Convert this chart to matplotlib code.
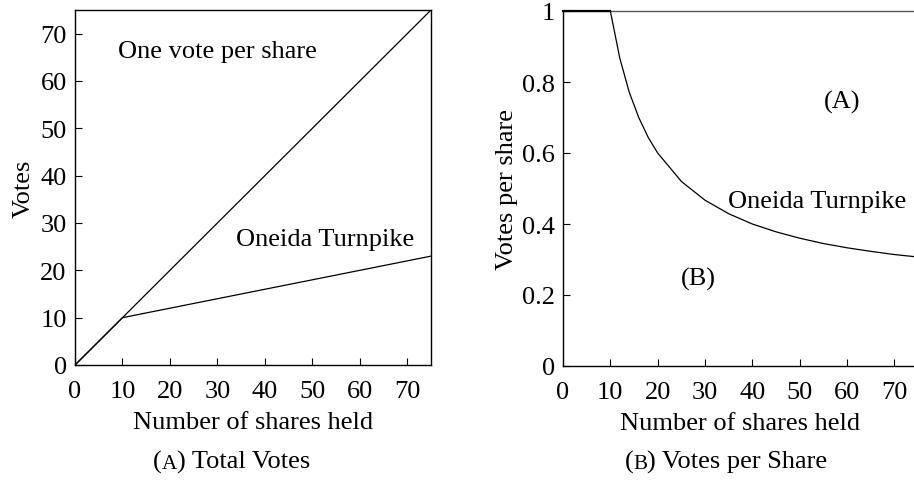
import matplotlib.pyplot as plt

plt.rcParams['font.family'] = ['Liberation Serif', 'DejaVu Serif']

# Data
shares = [0, 5, 10, 12, 14, 16, 18, 20, 25, 30, 35, 40, 45, 50, 55, 60, 65, 70, 75]
votes_one_per_share = [0, 5, 10, 12, 14, 16, 18, 20, 25, 30, 35, 40, 45, 50, 55, 60, 65, 70, 75]
votes_oneida = [0, 5, 10, 10.4, 10.8, 11.2, 11.6, 12, 13, 14, 15, 16, 17, 18, 19, 20, 21, 22, 23]
vps_one_per_share = [1] * len(shares)
vps_oneida = [1, 1, 1, 0.867, 0.771, 0.70, 0.644, 0.60, 0.52, 0.467, 0.429,
              0.40, 0.378, 0.36, 0.345, 0.333, 0.323, 0.314, 0.307]

FS = 19
fig = plt.figure(figsize=(9.14, 4.81), dpi=100)
W, H = 914, 481

# (A) Total votes
ax1 = fig.add_axes([75 / W, 1 - 366 / H, (431 - 75) / W, (366 - 11) / H])
ax1.plot(shares, votes_one_per_share, color='black', lw=0.9)
ax1.plot(shares, votes_oneida, color='black', lw=0.9)
ax1.set_xlim(0, 75)
ax1.set_ylim(0, 75)
ax1.set_xticks(range(0, 71, 10))
ax1.set_yticks(range(0, 71, 10))
ax1.tick_params(direction='in', labelsize=FS, length=5, width=0.8, pad=6)
ax1.tick_params(axis='x', pad=11)
ax1.set_xlabel('Number of shares held', fontsize=FS, labelpad=6)
ax1.set_ylabel('Votes', fontsize=FS, labelpad=4)
ax1.text(9, 66.4, 'One vote per share', fontsize=FS, va='center')
ax1.text(34, 26.6, 'Oneida Turnpike', fontsize=FS, va='center')
for s in ax1.spines.values():
    s.set_linewidth(1.0)

# (B) Votes per share
ax2 = fig.add_axes([563 / W, 1 - 367 / H, (918 - 563) / W, (367 - 12) / H])
ax2.plot(shares, vps_one_per_share, color='#555555', lw=1.0, clip_on=False)
ax2.plot(shares[:3], vps_one_per_share[:3], color='black', lw=1.6, clip_on=False)
ax2.plot(shares, vps_oneida, color='black', lw=0.9)
ax2.set_xlim(0, 75)
ax2.set_ylim(0, 1)
ax2.set_xticks(range(0, 71, 10))
ax2.set_yticks([0, 0.2, 0.4, 0.6, 0.8, 1])
ax2.set_yticklabels(['0', '0.2', '0.4', '0.6', '0.8', '1'])
ax2.spines['top'].set_visible(False)
ax2.spines['right'].set_visible(False)
ax2.tick_params(direction='in', labelsize=FS, length=5, width=0.8, pad=6)
ax2.tick_params(axis='x', pad=11)
ax2.set_xlabel('Number of shares held', fontsize=FS, labelpad=6)
ax2.set_ylabel('Votes per share', fontsize=FS, labelpad=3)
ax2.text(58.9, 0.745, '(A)', fontsize=FS, ha='center', va='center')
ax2.text(28.5, 0.246, '(B)', fontsize=FS, ha='center', va='center')
ax2.text(34.8, 0.466, 'Oneida Turnpike', fontsize=FS, va='center')
for s in ax2.spines.values():
    s.set_linewidth(1.0)


# captions with a small-caps letter
def caption(cx, cy, letter, rest):
    r = fig.canvas.get_renderer()
    parts = [('(', FS), (letter, FS * 0.8), (') ' + rest, FS)]
    widths = []
    for s, fs in parts:
        t = fig.text(0, 0, s, fontsize=fs)
        widths.append(t.get_window_extent(r).width)
        t.remove()
    x = cx - sum(widths) / 2
    for (s, fs), w in zip(parts, widths):
        fig.text(x / W, 1 - cy / H, s, fontsize=fs, va='baseline')
        x += w


caption(232, 469, 'A', 'Total Votes')
caption(726, 469, 'B', 'Votes per Share')

fig.savefig('out.png', dpi=100)
